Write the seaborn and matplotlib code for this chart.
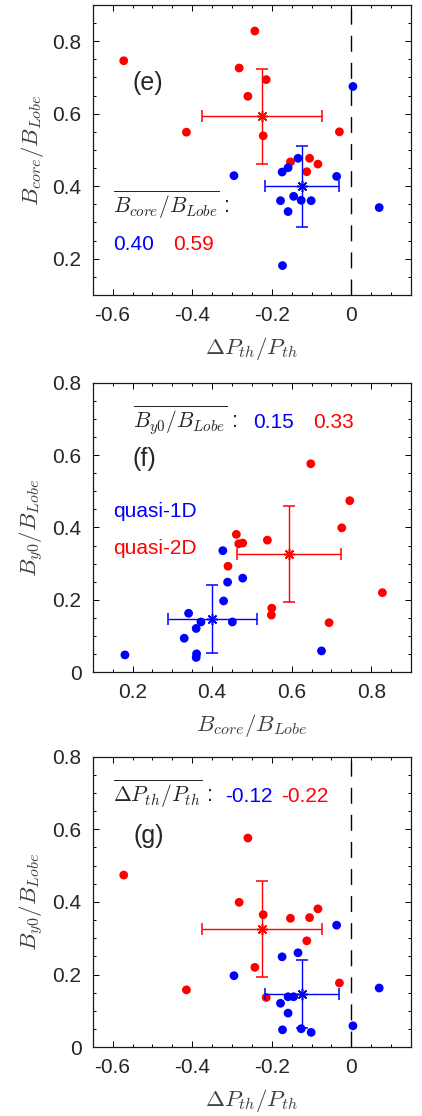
import numpy as np
import pandas as pd
import matplotlib
matplotlib.use('Agg')
import matplotlib.pyplot as plt
import seaborn as sns
from matplotlib.ticker import MultipleLocator

# quasi-1D events (blue)
dp_1d = [-0.037, -0.295, -0.174, -0.134, 0.070, 0.004, -0.159, -0.145, -0.178, -0.159, -0.173, -0.126, -0.101]
bcore_1d = [0.427, 0.429, 0.439, 0.477, 0.341, 0.675, 0.451, 0.372, 0.360, 0.330, 0.181, 0.361, 0.360]
by0_1d = [0.336, 0.197, 0.249, 0.260, 0.163, 0.059, 0.139, 0.139, 0.121, 0.094, 0.048, 0.051, 0.041]

# quasi-2D events (red)
dp_2d = [-0.572, -0.2425, -0.282, -0.214, -0.260, -0.4145, -0.2215, -0.030, -0.153, -0.105, -0.084, -0.112]
bcore_2d = [0.746, 0.828, 0.726, 0.694, 0.648, 0.549, 0.539, 0.550, 0.467, 0.477, 0.461, 0.440]
by0_2d = [0.474, 0.220, 0.399, 0.137, 0.576, 0.158, 0.365, 0.177, 0.355, 0.357, 0.381, 0.293]

# group means and spreads: [quasi-1D, quasi-2D]
mean_dp = [-0.124, -0.225]
std_dp = [0.093, 0.151]
mean_bcore = [0.400, 0.593]
std_bcore = [0.112, 0.131]
mean_by0 = [0.147, 0.326]
std_by0 = [0.093, 0.133]
label_dp = ['-0.12', '-0.22']
label_bcore = ['0.40', '0.59']
label_by0 = ['0.15', '0.33']

groups = ['quasi-1D', 'quasi-2D']
colors = {'quasi-1D': '#0000ff', 'quasi-2D': '#ff0000'}

df = pd.DataFrame({
    'dp': dp_2d + dp_1d,
    'bcore': bcore_2d + bcore_1d,
    'by0': by0_2d + by0_1d,
    'group': ['quasi-2D'] * len(dp_2d) + ['quasi-1D'] * len(dp_1d),
})

sns.set_style('ticks')
plt.rcParams['font.family'] = ['Liberation Sans', 'DejaVu Sans']
plt.rcParams['mathtext.fontset'] = 'cm'

TICK_COL = '#262626'
LAB_COL = '#404040'
LAB_FS = 16.5
MEAN_FS = 15.5

fig = plt.figure(figsize=(4.22, 11.16), dpi=100)
ax_e = fig.add_axes([0.2197, 0.7357, 0.7543, 0.2599])
ax_f = fig.add_axes([0.2197, 0.3976, 0.7543, 0.2595])
ax_g = fig.add_axes([0.2197, 0.0616, 0.7543, 0.2604])


def draw_panel(ax, xcol, ycol, mx, sx, my, sy, zero_line):
    sns.scatterplot(data=df, x=xcol, y=ycol, hue='group', palette=colors,
                    s=40, linewidth=0, legend=False, ax=ax, zorder=3)
    for i, g in enumerate(groups):
        ax.errorbar(mx[i], my[i], xerr=sx[i], yerr=sy[i], color=colors[g],
                    marker=(8, 2, 0), ms=8, mew=1.1, lw=1.0, capsize=4.3,
                    capthick=1.0, zorder=4)
    if zero_line:
        ax.axvline(0, color='k', lw=1.0, dashes=(11.5, 8), zorder=2)
    ax.xaxis.set_minor_locator(MultipleLocator(0.05))
    ax.yaxis.set_minor_locator(MultipleLocator(0.05))
    ax.tick_params(which='both', direction='in', top=True, right=True,
                   labelsize=15, colors='k', labelcolor=TICK_COL, width=0.7)
    ax.tick_params(which='major', length=4, pad=8)
    ax.tick_params(which='minor', length=2.5)
    for sp in ax.spines.values():
        sp.set_linewidth(0.9)
        sp.set_color('#1a1a1a')


# panel (e)
draw_panel(ax_e, 'dp', 'bcore', mean_dp, std_dp, mean_bcore, std_bcore, True)
ax_e.set_xlim(-0.65, 0.15)
ax_e.set_ylim(0.1, 0.9)
ax_e.set_xticks([-0.6, -0.4, -0.2, 0])
ax_e.set_xticklabels(['-0.6', '-0.4', '-0.2', '0'])
ax_e.set_yticks([0.2, 0.4, 0.6, 0.8])
ax_e.set_xlabel(r'$\Delta P_{th}/P_{th}$', fontsize=LAB_FS, color=LAB_COL, labelpad=7)
ax_e.set_ylabel(r'$B_{core}/B_{Lobe}$', fontsize=LAB_FS, color=LAB_COL, labelpad=5)
ax_e.text(0.174, 0.731, '(e)', transform=ax_e.transAxes, fontsize=18,
          ha='center', va='center')
ax_e.text(0.064, 0.282, r'$\overline{B_{core}/B_{Lobe}}$ :', transform=ax_e.transAxes,
          fontsize=MEAN_FS, ha='left', va='baseline')
ax_e.text(0.064, 0.155, label_bcore[0], transform=ax_e.transAxes, fontsize=15,
          color=colors['quasi-1D'], ha='left', va='baseline')
ax_e.text(0.252, 0.155, label_bcore[1], transform=ax_e.transAxes, fontsize=15,
          color=colors['quasi-2D'], ha='left', va='baseline')

# panel (f)
draw_panel(ax_f, 'bcore', 'by0', mean_bcore, std_bcore, mean_by0, std_by0, False)
ax_f.set_xlim(0.1, 0.9)
ax_f.set_ylim(0, 0.8)
ax_f.set_xticks([0.2, 0.4, 0.6, 0.8])
ax_f.set_yticks([0, 0.2, 0.4, 0.6, 0.8])
ax_f.set_yticklabels(['0', '0.2', '0.4', '0.6', '0.8'])
ax_f.set_xlabel(r'$B_{core}/B_{Lobe}$', fontsize=LAB_FS, color=LAB_COL, labelpad=7)
ax_f.set_ylabel(r'$B_{y0}/B_{Lobe}$', fontsize=LAB_FS, color=LAB_COL, labelpad=5)
ax_f.text(0.128, 0.8425, r'$\overline{B_{y0}/B_{Lobe}}$ :', transform=ax_f.transAxes,
          fontsize=MEAN_FS, ha='left', va='baseline')
ax_f.text(0.503, 0.8425, label_by0[0], transform=ax_f.transAxes, fontsize=15,
          color=colors['quasi-1D'], ha='left', va='baseline')
ax_f.text(0.691, 0.8425, label_by0[1], transform=ax_f.transAxes, fontsize=15,
          color=colors['quasi-2D'], ha='left', va='baseline')
ax_f.text(0.161, 0.737, '(f)', transform=ax_f.transAxes, fontsize=18,
          ha='center', va='center')
ax_f.text(0.063, 0.555, groups[0], transform=ax_f.transAxes, fontsize=15,
          color=colors['quasi-1D'], ha='left', va='center')
ax_f.text(0.063, 0.428, groups[1], transform=ax_f.transAxes, fontsize=15,
          color=colors['quasi-2D'], ha='left', va='center')

# panel (g)
draw_panel(ax_g, 'dp', 'by0', mean_dp, std_dp, mean_by0, std_by0, True)
ax_g.set_xlim(-0.65, 0.15)
ax_g.set_ylim(0, 0.8)
ax_g.set_xticks([-0.6, -0.4, -0.2, 0])
ax_g.set_xticklabels(['-0.6', '-0.4', '-0.2', '0'])
ax_g.set_yticks([0, 0.2, 0.4, 0.6, 0.8])
ax_g.set_yticklabels(['0', '0.2', '0.4', '0.6', '0.8'])
ax_g.set_xlabel(r'$\Delta P_{th}/P_{th}$', fontsize=LAB_FS, color=LAB_COL, labelpad=7)
ax_g.set_ylabel(r'$B_{y0}/B_{Lobe}$', fontsize=LAB_FS, color=LAB_COL, labelpad=5)
ax_g.text(0.065, 0.845, r'$\overline{\Delta P_{th}/P_{th}}$ :', transform=ax_g.transAxes,
          fontsize=MEAN_FS, ha='left', va='baseline')
ax_g.text(0.416, 0.845, label_dp[0], transform=ax_g.transAxes, fontsize=15,
          color=colors['quasi-1D'], ha='left', va='baseline')
ax_g.text(0.592, 0.845, label_dp[1], transform=ax_g.transAxes, fontsize=15,
          color=colors['quasi-2D'], ha='left', va='baseline')
ax_g.text(0.175, 0.727, '(g)', transform=ax_g.transAxes, fontsize=18,
          ha='center', va='center')

fig.savefig('out.png', dpi=100, facecolor='white')
plt.close(fig)
